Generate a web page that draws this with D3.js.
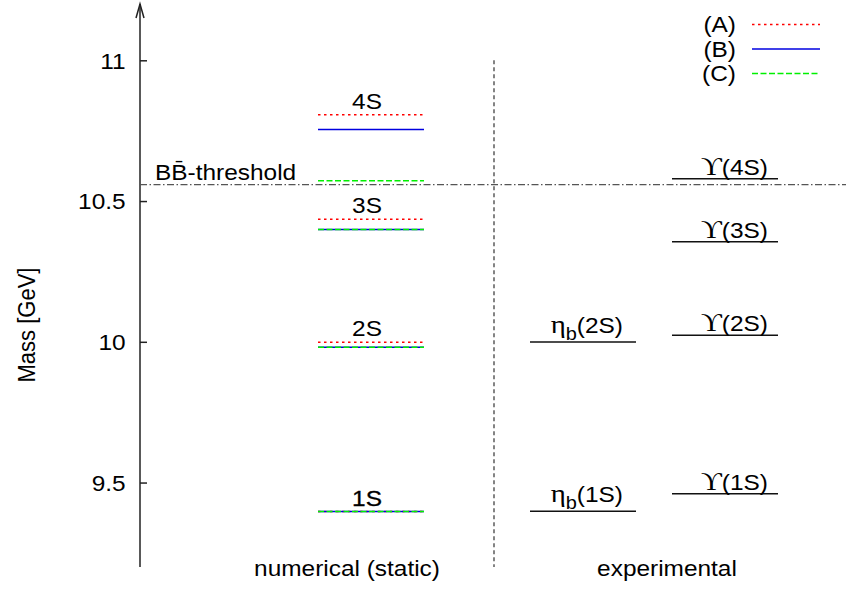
<!DOCTYPE html>
<html>
<head>
<meta charset="utf-8">
<script src="https://cdn.jsdelivr.net/npm/d3@7"></script>
<style>
body { margin: 0; background: #fff; }
text { font-family: "Liberation Sans", Arial, Helvetica, sans-serif; font-size: 22px; fill: #000; }
.greek { font-family: "Liberation Serif", "DejaVu Serif", serif; font-size: 26px; }
</style>
</head>
<body>
<div class="drawingboard"></div>
<script>
// bottomonium levels (GeV)
const levels = ["1S", "2S", "3S", "4S"];
const modelA = [9.397, 9.998, 10.435, 10.807];
const modelB = [9.397, 9.981, 10.399, 10.754];
const modelC = [9.397, 9.981, 10.399, 10.572];
const modelNames = ["(A)", "(B)", "(C)"];

const etaStates = ["1S", "2S"];
const etaMass = [9.398, 9.999];
const upsStates = ["1S", "2S", "3S", "4S"];
const upsMass = [9.460, 10.023, 10.355, 10.579];

const threshold = 10.558;
const yTicks = [9.5, 10, 10.5, 11];
const columnLabels = ["numerical (static)", "experimental"];

var width = 846, height = 590;
var sx = 1.11; // text in the original is a bit wider than tall

var svg = d3.select(".drawingboard")
    .append("svg")
    .attr("width", width)
    .attr("height", height);

var y = d3.scaleLinear().domain([9.2, 11.2]).range([567, 4]);

var axisX = 140;
var numX = [318, 424], etaX = [530, 636], upsX = [672, 778], divX = 494;

var models = [
    {name: modelNames[0], values: modelA, color: "#ff0000", dash: "2.5,3.5"},
    {name: modelNames[1], values: modelB, color: "#0000e0", dash: null},
    {name: modelNames[2], values: modelC, color: "#00f000", dash: "6,2.5"}
];

function label(x, yy, str, anchor, rot) {
    var g = svg.append("g")
        .attr("transform", "translate(" + x + "," + yy + ") scale(" + sx + ",1)" + (rot ? " rotate(" + rot + ")" : ""));
    return g.append("text").attr("text-anchor", anchor || "start").text(str);
}

// y axis
var axis = d3.axisLeft(y).tickValues(yTicks).tickSizeInner(-7).tickSizeOuter(0).tickPadding(13)
    .tickFormat(d3.format("~g"));
var ag = svg.append("g").attr("transform", "translate(" + axisX + ",0)").call(axis);
ag.select(".domain").remove();
ag.selectAll(".tick line").attr("stroke", "#222").attr("stroke-width", 1.5);
ag.selectAll(".tick text")
    .attr("transform", "scale(" + sx + ",1)")
    .attr("dy", "0.36em");
ag.attr("font-size", null).attr("font-family", null);

svg.append("path")
    .attr("d", "M" + axisX + "," + y.range()[0] + "V" + y.range()[1])
    .attr("stroke", "#222").attr("stroke-width", 1.5).attr("fill", "none");
svg.append("path")
    .attr("d", "M" + (axisX - 4) + "," + (y.range()[1] + 14) + "L" + axisX + "," + y.range()[1] + "L" + (axisX + 4) + "," + (y.range()[1] + 14))
    .attr("stroke", "#222").attr("stroke-width", 1.5).attr("fill", "none");

label(26, 325, "Mass [GeV]", "middle", -90).attr("dy", "0.35em");

// divider
svg.append("line")
    .attr("x1", divX).attr("x2", divX).attr("y1", y(11)).attr("y2", y.range()[0])
    .attr("stroke", "#333").attr("stroke-width", 1.2).attr("stroke-dasharray", "4,3");

// threshold
svg.append("line")
    .attr("x1", axisX).attr("x2", width).attr("y1", y(threshold)).attr("y2", y(threshold))
    .attr("stroke", "#555").attr("stroke-width", 1.3).attr("stroke-dasharray", "7,2.5,1.5,2.5");
var th = label(155, y(threshold) - 5, "B");
th.append("tspan").text("B\u0304");
th.append("tspan").text("-threshold");

// numerical levels
models.forEach(function (m) {
    svg.append("g").selectAll("line")
        .data(m.values)
        .enter().append("line")
        .attr("x1", numX[0]).attr("x2", numX[1])
        .attr("y1", function (d) { return y(d); })
        .attr("y2", function (d) { return y(d); })
        .attr("stroke", m.color).attr("stroke-width", 1.5)
        .attr("stroke-dasharray", m.dash);
});

levels.forEach(function (lv, i) {
    var top = d3.max(models, function (m) { return m.values[i]; });
    var t = label(367, y(top) - 6, lv, "middle");
    var same = models.every(function (m) { return m.values[i] === modelA[i]; });
    if (same) t.attr("stroke", "#000").attr("stroke-width", 0.3);
});

// experimental: eta_b
etaMass.forEach(function (d, i) {
    svg.append("line")
        .attr("x1", etaX[0]).attr("x2", etaX[1]).attr("y1", y(d)).attr("y2", y(d))
        .attr("stroke", "#111").attr("stroke-width", 1.5);
    var t = label(623, y(d) - 9, "", "end");
    t.append("tspan").attr("class", "greek").text("\u03b7");
    t.append("tspan").attr("dy", 7).attr("font-size", 18).text("b");
    t.append("tspan").attr("dy", -7).text("(" + etaStates[i] + ")");
});

// experimental: Upsilon
upsMass.forEach(function (d, i) {
    svg.append("line")
        .attr("x1", upsX[0]).attr("x2", upsX[1]).attr("y1", y(d)).attr("y2", y(d))
        .attr("stroke", "#111").attr("stroke-width", 1.5);
    var t = label(768, y(d) - 4, "", "end");
    t.append("tspan").attr("class", "greek").text("\u03d2");
    t.append("tspan").text("(" + upsStates[i] + ")");
});

// column labels
label(347, 576, columnLabels[0], "middle");
label(667, 576, columnLabels[1], "middle");

// legend
models.forEach(function (m, i) {
    var ly = 24.5 + i * 24.5;
    label(736, ly, m.name, "end").attr("dy", "0.36em");
    svg.append("line")
        .attr("x1", 752).attr("x2", 820).attr("y1", ly).attr("y2", ly)
        .attr("stroke", m.color).attr("stroke-width", 1.5)
        .attr("stroke-dasharray", m.dash);
});
</script>
</body>
</html>
